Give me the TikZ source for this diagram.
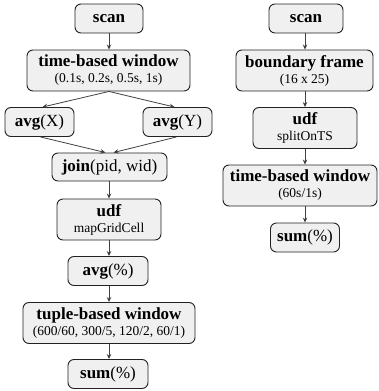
\documentclass[tikz,border=0pt]{standalone}
\usepackage{fontspec}
\setmainfont{Liberation Serif}
\usetikzlibrary{arrows.meta}
\definecolor{boxfill}{HTML}{F0F0F0}
\definecolor{edge}{HTML}{222222}
\newcommand{\subtxt}{\fontsize{13.5}{14}\selectfont\mdseries}
\tikzset{
  op/.style={draw=edge, line width=0.9pt, fill=boxfill, rounded corners=6pt, align=center, inner sep=0pt, minimum height=29pt, font=\fontsize{17}{17}\selectfont\bfseries},
  tall/.style={minimum height=41pt},
  arr/.style={-{Stealth[length=5pt,width=4.5pt]}, line width=0.8pt, draw=black!75}
}
\begin{document}
\begin{tikzpicture}[x=1pt,y=1pt]
\useasboundingbox (0,0) rectangle (378,-391);
% left column
\node[op, minimum width=68pt] (s1) at (109,-18.5) {scan};
\node[op, tall, minimum width=163pt] (tw1) at (108.5,-70.5) {time-based window\\[-1pt]{\subtxt (0.1s, 0.2s, 0.5s, 1s)}};
\node[op, minimum width=69pt] (ax) at (39.5,-122) {avg{\mdseries(X)}};
\node[op, minimum width=69pt] (ay) at (177.5,-122) {avg{\mdseries(Y)}};
\node[op, minimum width=115pt, minimum height=28pt] (jn) at (109.5,-167) {join{\mdseries(pid, wid)}};
\node[op, tall, minimum width=104pt] (u1) at (109,-219.5) {udf\\[-1pt]{\subtxt mapGridCell}};
\node[op, minimum width=80pt] (ap) at (108,-271) {avg{\mdseries(\%)}};
\node[op, tall, minimum width=172pt] (tb) at (109,-323) {tuple-based window\\[-1pt]{\subtxt (600/60, 300/5, 120/2, 60/1)}};
\node[op, minimum width=80pt] (sp1) at (108,-374) {sum{\mdseries(\%)}};
% right column
\node[op, minimum width=74pt] (s2) at (306,-18.5) {scan};
\node[op, tall, minimum width=137pt] (bf) at (304.5,-70.5) {boundary frame\\[-1pt]{\subtxt (16 x 25)}};
\node[op, tall, minimum width=104pt] (u2) at (305,-128) {udf\\[-1pt]{\subtxt splitOnTS}};
\node[op, tall, minimum width=154pt] (tw2) at (300,-185.5) {time-based window\\[-1pt]{\subtxt (60s/1s)}};
\node[op, minimum width=69pt] (sp2) at (305,-237.5) {sum{\mdseries(\%)}};
% connectors
\draw[arr] (s1.south) -- (s1.south |- tw1.north);
\draw[arr] (tw1.south -| s1) -- ([xshift=3pt]ax.north);
\draw[arr] (tw1.south -| s1) -- ([xshift=-3pt]ay.north);
\draw[arr] ([xshift=1pt]ax.south) -- ([xshift=-4pt]jn.north);
\draw[arr] ([xshift=-1pt]ay.south) -- ([xshift=4pt]jn.north);
\draw[arr] (jn.south -| s1) -- (u1.north -| s1);
\draw[arr] (u1.south -| s1) -- (ap.north -| s1);
\draw[arr] (ap.south -| s1) -- (tb.north -| s1);
\draw[arr] (tb.south -| s1) -- (sp1.north -| s1);
\draw[arr] (s2.south -| u2) -- (bf.north -| u2);
\draw[arr] (bf.south -| u2) -- (u2.north);
\draw[arr] (u2.south) -- (tw2.north -| u2);
\draw[arr] (tw2.south -| u2) -- (sp2.north -| u2);
\end{tikzpicture}
\end{document}
